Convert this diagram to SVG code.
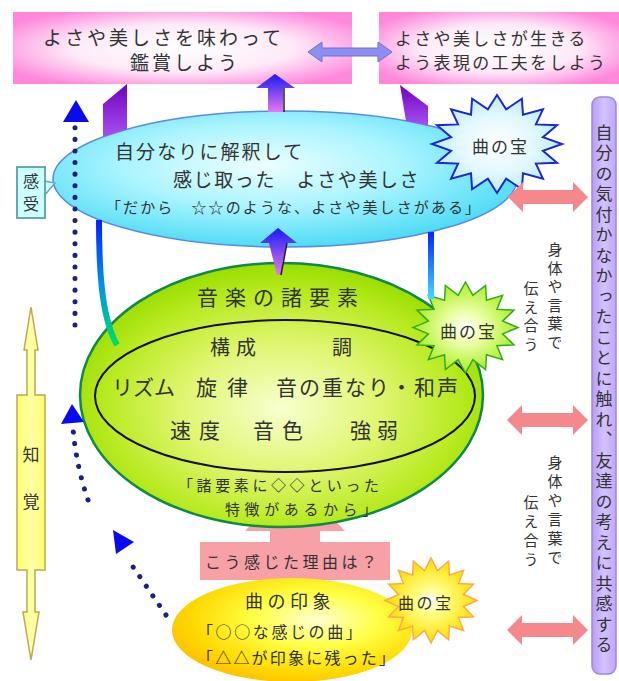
<svg xmlns="http://www.w3.org/2000/svg" xmlns:xlink="http://www.w3.org/1999/xlink" width="619" height="681" viewBox="0 0 619 681">
<style>
text{font-family:"Noto Sans CJK JP","Noto Sans",sans-serif;fill:#333;}
.vt{writing-mode:vertical-rl;}
.dots{fill:none;stroke:#1e1e88;stroke-width:5;stroke-linecap:round;stroke-dasharray:0.1 11.5;}
.dhead{fill:#0a0aee;}
.pinkarr{fill:#f4888c;}
</style>
<defs>
<radialGradient id="pinkG" cx="0.5" cy="0.5" r="0.6">
<stop offset="0" stop-color="#ffffff"/><stop offset="0.55" stop-color="#fdeaf8"/><stop offset="0.85" stop-color="#ffa8e6"/><stop offset="1" stop-color="#ff88dd"/>
</radialGradient>
<radialGradient id="cyanG" cx="0.45" cy="0.4" r="0.6">
<stop offset="0" stop-color="#ecffff"/><stop offset="0.5" stop-color="#aaf4ff"/><stop offset="1" stop-color="#4fdcf5"/>
</radialGradient>
<radialGradient id="greenG" cx="0.5" cy="0.55" r="0.55">
<stop offset="0" stop-color="#f8ffd0"/><stop offset="0.45" stop-color="#e0f570"/><stop offset="0.8" stop-color="#b8ea20"/><stop offset="1" stop-color="#99dd00"/>
</radialGradient>
<radialGradient id="yellowG" cx="0.6" cy="0.4" r="0.65">
<stop offset="0" stop-color="#ffffd0"/><stop offset="0.4" stop-color="#ffff44"/><stop offset="0.8" stop-color="#ffd800"/><stop offset="1" stop-color="#ffc000"/>
</radialGradient>
<radialGradient id="starBlueG" cx="0.5" cy="0.5" r="0.5">
<stop offset="0" stop-color="#ffffff"/><stop offset="0.6" stop-color="#e2f8ff"/><stop offset="1" stop-color="#b8ecff"/>
</radialGradient>
<radialGradient id="starGreenG" cx="0.5" cy="0.5" r="0.5">
<stop offset="0" stop-color="#ffffff"/><stop offset="0.35" stop-color="#eeffaa"/><stop offset="1" stop-color="#aaee22"/>
</radialGradient>
<radialGradient id="starYellowG" cx="0.5" cy="0.5" r="0.5">
<stop offset="0" stop-color="#ffffff"/><stop offset="0.3" stop-color="#ffff88"/><stop offset="1" stop-color="#ffdd00"/>
</radialGradient>
<linearGradient id="yArrowG" x1="0" y1="0" x2="1" y2="0">
<stop offset="0" stop-color="#ffff66"/><stop offset="0.5" stop-color="#ffffaa"/><stop offset="1" stop-color="#ffff66"/>
</linearGradient>
<linearGradient id="lavG" x1="0" y1="0" x2="1" y2="0">
<stop offset="0" stop-color="#b89cf4"/><stop offset="0.5" stop-color="#d4c2ff"/><stop offset="1" stop-color="#c2a6fa"/>
</linearGradient>
<linearGradient id="purpG" x1="0" y1="0" x2="0" y2="1">
<stop offset="0" stop-color="#7000c0"/><stop offset="1" stop-color="#a850f0"/>
</linearGradient>
<linearGradient id="ctrArrG" x1="0" y1="0" x2="0" y2="1">
<stop offset="0" stop-color="#1818ff"/><stop offset="0.4" stop-color="#6a40f0"/><stop offset="1" stop-color="#e878f0"/>
</linearGradient>
<linearGradient id="lineL" gradientUnits="userSpaceOnUse" x1="0" y1="220" x2="0" y2="345">
<stop offset="0" stop-color="#0020ff"/><stop offset="0.5" stop-color="#0090ee"/><stop offset="1" stop-color="#00dd66"/>
</linearGradient>
<linearGradient id="lineR" gradientUnits="userSpaceOnUse" x1="0" y1="230" x2="0" y2="300">
<stop offset="0" stop-color="#0020ff"/><stop offset="1" stop-color="#44ddff"/>
</linearGradient>
<polygon id="star" vector-effect="non-scaling-stroke" points="50,0 35.31,7.02 46.19,19.13 29.93,20 35.36,35.36 20,29.93 19.13,46.19 7.02,35.31 0,50 -7.02,35.31 -19.13,46.19 -20,29.93 -35.36,35.36 -29.93,20 -46.19,19.13 -35.31,7.02 -50,0 -35.31,-7.02 -46.19,-19.13 -29.93,-20 -35.36,-35.36 -20,-29.93 -19.13,-46.19 -7.02,-35.31 0,-50 7.02,-35.31 19.13,-46.19 20,-29.93 35.36,-35.36 29.93,-20 46.19,-19.13 35.31,-7.02"/>
</defs>

<g id="appreciate">
<rect x="13" y="12" width="339" height="72" fill="url(#pinkG)"/>
<text x="43" y="45" font-size="19" letter-spacing="3">よさや美しさを味わって</text>
<text x="130" y="70" font-size="19" letter-spacing="3">鑑賞しよう</text>
</g>

<g id="express">
<rect x="379" y="12" width="240" height="72" fill="url(#pinkG)"/>
<text x="395" y="44.5" font-size="17" letter-spacing="2.3">よさや美しさが生きる</text>
<text x="395" y="68.5" font-size="17" letter-spacing="2.3">よう表現の工夫をしよう</text>
</g>

<g id="feeling">
<ellipse cx="285" cy="179" rx="232" ry="68" fill="url(#cyanG)" stroke="#5a8ae8" stroke-width="1.5"/>
<text x="115" y="159" font-size="19" letter-spacing="2.1">自分なりに解釈して</text>
<text x="173" y="187" font-size="19" letter-spacing="1.6">感じ取った　よさや美しさ</text>
<text x="106" y="213" font-size="15" letter-spacing="2.1">「だから　☆☆のような、よさや美しさがある」</text>
</g>

<g id="treasure1">
<use xlink:href="#star" transform="translate(497,144) scale(1.3,0.98)" fill="url(#starBlueG)" stroke="#1a2acc" stroke-width="2"/>
<text x="472" y="153" font-size="17" letter-spacing="2">曲の宝</text>
</g>

<g id="kanju">
<polygon points="44,181 55,183 44,196" fill="#ccffff" stroke="#66aaaa" stroke-width="1.5"/>
<rect x="17" y="167" width="28" height="51" fill="#ccffff" stroke="#66aaaa" stroke-width="2"/>
<text x="31" y="187" font-size="16" text-anchor="middle">感</text>
<text x="31" y="210" font-size="16" text-anchor="middle">受</text>
</g>

<g id="reason">
<polygon points="295,480 345,531 320,531 320,545 270,545 270,531 245,531" fill="#f7a0a6"/>
<rect x="200" y="542" width="190" height="38" fill="#f7a0a6"/>
<text x="205" y="568" font-size="16" letter-spacing="3.5">こう感じた理由は？</text>
</g>

<g id="elements">
<ellipse cx="281.5" cy="395" rx="201.5" ry="132" fill="url(#greenG)" stroke="#0d8a4a" stroke-width="2.5"/>
<ellipse cx="285" cy="396" rx="190" ry="76" fill="none" stroke="#111" stroke-width="2"/>
<text x="197" y="305" font-size="21" letter-spacing="7">音楽の諸要素</text>
<text x="210" y="355" font-size="20" letter-spacing="6">構成</text>
<text x="332" y="355" font-size="20">調</text>
<text x="112" y="395" font-size="21">リズム</text>
<text x="196" y="395" font-size="21" letter-spacing="10">旋律</text>
<text x="276" y="395" font-size="21" letter-spacing="2">音の重なり・和声</text>
<text x="170" y="438" font-size="21" letter-spacing="8">速度</text>
<text x="253" y="438" font-size="21" letter-spacing="8">音色</text>
<text x="350" y="438" font-size="21" letter-spacing="6">強弱</text>
<text x="178" y="491" font-size="15" letter-spacing="3.6">「諸要素に◇◇といった</text>
<text x="225" y="515" font-size="15" letter-spacing="4.6">特徴があるから」</text>
</g>

<g id="treasure2">
<use xlink:href="#star" transform="translate(465.5,327.5) scale(1.05,0.91)" fill="url(#starGreenG)" stroke="#33aa22" stroke-width="1.5"/>
<text x="440" y="338" font-size="17" letter-spacing="2">曲の宝</text>
</g>

<g id="impression">
<ellipse cx="292" cy="630" rx="120" ry="52" fill="url(#yellowG)"/>
<text x="245" y="608" font-size="18" letter-spacing="4.5">曲の印象</text>
<text x="197" y="638" font-size="16" letter-spacing="2.6">「○○な感じの曲」</text>
<text x="197" y="664" font-size="16" letter-spacing="2.2">「△△が印象に残った」</text>
</g>

<g id="treasure3">
<use xlink:href="#star" transform="translate(431,600.5) scale(0.92,0.85)" fill="url(#starYellowG)" stroke="#ffaa44" stroke-width="1.5"/>
<text x="398" y="609" font-size="16" letter-spacing="2.5">曲の宝</text>
</g>

<g id="perception">
<polygon points="31,307 38,350 35,350 35,395 45,395 45,570 35,570 35,612 39,612 31,660 23,612 27,612 27,570 17,570 17,395 27,395 27,350 24,350" fill="url(#yArrowG)" stroke="#bbaa55" stroke-width="1.5"/>
<text x="31" y="461" font-size="17" text-anchor="middle">知</text>
<text x="31" y="508" font-size="17" text-anchor="middle">覚</text>
</g>

<g id="share1">
<text class="vt" x="555" y="242" font-size="15" letter-spacing="3.5">身体や言葉で</text>
<text class="vt" x="531" y="281" font-size="15" letter-spacing="3.5">伝え合う</text>
</g>

<g id="share2">
<text class="vt" x="555" y="455" font-size="15" letter-spacing="4">身体や言葉で</text>
<text class="vt" x="531" y="495" font-size="15" letter-spacing="4">伝え合う</text>
</g>

<g id="empathy">
<rect x="592" y="97" width="24" height="577" rx="8" fill="url(#lavG)" stroke="#9f86e0" stroke-width="1.5"/>
<text class="vt" x="604" y="124" font-size="17" letter-spacing="3.5">自分の気付かなかったことに触れ、友達の考えに共感する</text>
</g>

<g id="connectors">
<polygon points="308,52 322,42 322,48 378,48 378,42 392,52 378,62 378,56 322,56 322,62" fill="#8c8ef0" stroke="#7070d0" stroke-width="1"/>
<polygon points="103,104 127,84 127,129 103,137" fill="url(#purpG)"/>
<polygon points="400,85 428,106 428,125.5 406,121" fill="url(#purpG)"/>
<polygon points="275,74 295,88 283,88 283,112 268,112 268,88 256,88" fill="url(#ctrArrG)"/>
<line x1="284" y1="88" x2="284" y2="112" stroke="#222" stroke-width="1.5"/>
<path d="M99,220 C99,280 103,320 117,345" fill="none" stroke="url(#lineL)" stroke-width="6"/>
<path d="M431,232 L431,299" fill="none" stroke="url(#lineR)" stroke-width="6"/>
<polygon points="278,228 297,243 287,243 281,275 277,275 269,243 260,243" fill="url(#ctrArrG)"/>
<line x1="287" y1="243" x2="281" y2="275" stroke="#222" stroke-width="1.5"/>
<path class="dots" d="M75,325 L75,127"/>
<polygon class="dhead" points="76,100 63,122 89,122"/>
<path class="dots" d="M88,500 Q76,465 73,428"/>
<polygon class="dhead" points="72,404 61,424 84,422"/>
<path class="dots" d="M166,615 L127,558"/>
<polygon class="dhead" points="113,530 134,542 116,554"/>
<polygon class="pinkarr" points="508,197 523,182 523,190 573,190 573,182 588,197 573,212 573,204 523,204 523,212"/>
<polygon class="pinkarr" points="507,420 522,405 522,413 573,413 573,405 588,420 573,435 573,427 522,427 522,435"/>
<polygon class="pinkarr" points="507,630 522,615 522,623 573,623 573,615 588,630 573,645 573,637 522,637 522,645"/>
</g>
</svg>
